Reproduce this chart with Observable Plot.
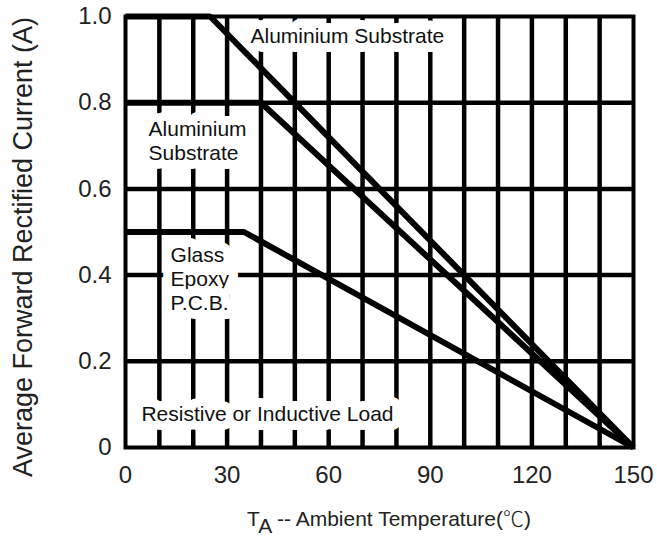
<!DOCTYPE html>
<html>
<head>
<meta charset="utf-8">
<script src="https://cdn.jsdelivr.net/npm/d3@7"></script>
<script src="https://cdn.jsdelivr.net/npm/@observablehq/plot@0.6"></script>
<style>
  html, body { margin: 0; padding: 0; background: #fff; }
  #wrap { position: relative; width: 657px; height: 536px; font-family: "Liberation Sans", Arial, sans-serif; }
  #xlabel { position: absolute; left: 247px; top: 507px; font-size: 21px; color: #222; white-space: nowrap; line-height: 21px; }
  #xlabel .sub { position: relative; top: 7px; }
  #xlabel .cjk { font-family: "Noto Sans CJK SC", "Liberation Sans", sans-serif; font-weight: 300; }
</style>
</head>
<body>
<div id="wrap">
  <div id="chart"></div>
  <div id="xlabel">T<span class="sub">A</span> -- Ambient Temperature(<span class="cjk">℃</span>)</div>
</div>
<script>
// Axis ticks
const xTicks = [0, 30, 60, 90, 120, 150];
const yTicks = [0, 0.2, 0.4, 0.6, 0.8, 1.0];
const xGrid = [10, 20, 30, 40, 50, 60, 70, 80, 90, 100, 110, 120, 130, 140];
const yGrid = [0.2, 0.4, 0.6, 0.8];

// Derating curves (temperature °C, current A)
const alumTopT = [0, 25, 150];
const alumTopI = [1.0, 1.0, 0];
const alumMidT = [0, 40, 150];
const alumMidI = [0.8, 0.8, 0];
const glassT = [0, 35, 150];
const glassI = [0.5, 0.5, 0];

// Annotations
const labelTexts = ["Aluminium Substrate", "Aluminium\nSubstrate", "Glass\nEpoxy\nP.C.B.", "Resistive or Inductive Load"];
const labelT = [36.9, 6.8, 13.3, 4.7];
const labelI = [0.956, 0.713, 0.392, 0.079];

const yLabel = "Average Forward Rectified Current (A)";

const series = [];
[["top", alumTopT, alumTopI], ["mid", alumMidT, alumMidI], ["glass", glassT, glassI]].forEach(([name, T, I]) => {
  T.forEach((t, k) => series.push({name, t, i: I[k]}));
});
const labels = labelTexts.map((text, k) => ({text, t: labelT[k], i: labelI[k]}));

const chart = Plot.plot({
  width: 657,
  height: 500,
  marginLeft: 125,
  marginRight: 24,
  marginTop: 16,
  marginBottom: 53,
  x: {domain: [0, 150]},
  y: {domain: [0, 1]},
  style: {fontFamily: "'Liberation Sans', Arial, sans-serif", background: "white", overflow: "visible"},
  marks: [
    Plot.ruleX(xGrid, {stroke: "#000", strokeWidth: 4.5, strokeOpacity: 1}),
    Plot.ruleY(yGrid, {stroke: "#000", strokeWidth: 4.5, strokeOpacity: 1}),
    Plot.text(labels, {x: "t", y: "i", text: "text", textAnchor: "start", lineAnchor: "middle", lineHeight: 1.15, fontSize: 21, fill: "#111", stroke: "white", strokeWidth: 18, paintOrder: "stroke"}),
    Plot.line(series, {x: "t", y: "i", z: "name", stroke: "#000", strokeWidth: 6, strokeLinejoin: "miter", strokeLinecap: "butt"}),
    Plot.frame({stroke: "#000", strokeWidth: 4}),
    Plot.axisX({ticks: xTicks, tickSize: 0, tickPadding: 18, fontSize: 24, label: null, fill: "#222"}),
    Plot.axisY({ticks: yTicks, tickSize: 0, tickPadding: 14, fontSize: 24, label: null, fill: "#222", tickFormat: d => d === 0 ? "0" : d.toFixed(1)}),
    Plot.text([yLabel], {frameAnchor: "left", textAnchor: "middle", rotate: -90, dx: -102, dy: 15, fontSize: 27, fill: "#222"})
  ]
});
document.getElementById("chart").appendChild(chart);
</script>
</body>
</html>
